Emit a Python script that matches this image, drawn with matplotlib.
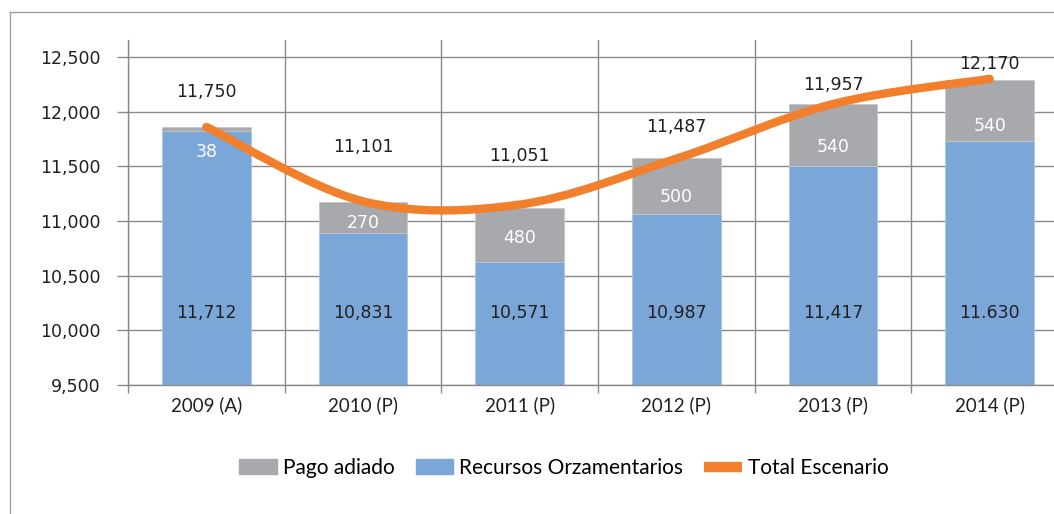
import numpy as np
import matplotlib
matplotlib.use("Agg")
import matplotlib.pyplot as plt
from matplotlib.path import Path
from matplotlib.patches import PathPatch, Patch
from matplotlib.lines import Line2D
from matplotlib.ticker import FuncFormatter

# data (bar heights; printed labels kept as in the source)
years = ["2009 (A)", "2010 (P)", "2011 (P)", "2012 (P)", "2013 (P)", "2014 (P)"]
recursos = [11824, 10894, 10626, 11062, 11506, 11732]
pago = [33, 283, 494, 512, 567, 558]
total = [11860, 11180, 11150, 11570, 12070, 12300]

recursos_labels = ["11,712", "10,831", "10,571", "10,987", "11,417", "11.630"]
pago_labels = ["38", "270", "480", "500", "540", "540"]
total_labels = ["11,750", "11,101", "11,051", "11,487", "11,957", "12,170"]

# label placement (layout only)
total_label_y = [12180, 11680, 11595, 11860, 12245, 12440]
pago_label_y = [11632, 10983, 10846, 11220, 11677, 11869]
recursos_label_y = 10160

BLUE = "#7BA7D8"
GRAY = "#A7A9AC"
ORANGE = "#F27F2B"
GRID = "#8A8A8A"
TXT = "#231F20"
NUM_FONT = "DejaVu Sans"
LAB_FONT = "Lato"
NUM_SIZE = 12.5

W, H = 1054, 514
fig = plt.figure(figsize=(W / 100, H / 100), dpi=100)
ax = fig.add_axes([128 / W, 1 - 385 / H, 940 / W, 345 / H])

x = np.arange(len(years))
ax.bar(x, recursos, width=0.565, color=BLUE, edgecolor="#A9C6E8", linewidth=0.6, zorder=2)
ax.bar(x, pago, width=0.565, bottom=recursos, color=GRAY, edgecolor="#C4C6C8", linewidth=0.6, zorder=2)

# smoothed line (Excel style bezier through the points)
pts = np.column_stack([x, total]).astype(float)
verts = [pts[0]]
codes = [Path.MOVETO]
for i in range(len(pts) - 1):
    p0 = pts[i - 1] if i > 0 else pts[i]
    p3 = pts[i + 2] if i + 2 < len(pts) else pts[i + 1]
    c1 = pts[i] + (pts[i + 1] - p0) / 6
    c2 = pts[i + 1] - (p3 - pts[i]) / 6
    verts += [c1, c2, pts[i + 1]]
    codes += [Path.CURVE4] * 3
ax.add_patch(PathPatch(Path(verts, codes), facecolor="none", edgecolor=ORANGE,
                       lw=6, capstyle="round", joinstyle="round", zorder=4))

for i in range(len(years)):
    ax.text(x[i], recursos_label_y, recursos_labels[i], ha="center", va="center",
            fontsize=NUM_SIZE, family=NUM_FONT, color=TXT, zorder=5)
    ax.text(x[i], pago_label_y[i], pago_labels[i], ha="center", va="center",
            fontsize=NUM_SIZE, family=NUM_FONT, color="white", zorder=5)
    ax.text(x[i], total_label_y[i], total_labels[i], ha="center", va="center",
            fontsize=NUM_SIZE, family=NUM_FONT, color=TXT, zorder=5)

ax.set_xlim(-0.5, 5.5)
ax.set_ylim(9500, 12655)
ax.set_yticks(np.arange(9500, 12501, 500))
ax.yaxis.set_major_formatter(FuncFormatter(lambda v, p: f"{int(v):,}"))
ax.set_xticks(x)
ax.set_xticklabels(years)
ax.set_xticks(np.arange(-0.5, 6, 1), minor=True)

ax.set_axisbelow(True)
ax.yaxis.grid(True, color=GRID, lw=1)
ax.xaxis.grid(True, which="minor", color=GRID, lw=1)
ax.xaxis.grid(False, which="major")

for s in ["top", "right"]:
    ax.spines[s].set_visible(False)
for s in ["left", "bottom"]:
    ax.spines[s].set_color(GRID)
    ax.spines[s].set_linewidth(1)

ax.tick_params(axis="x", which="major", length=0, pad=8)
ax.tick_params(axis="x", which="minor", length=6, width=1, color=GRID, direction="out")
ax.tick_params(axis="y", length=8, width=1, color=GRID, pad=12)
for t in ax.get_yticklabels():
    t.set_family(NUM_FONT)
    t.set_fontsize(NUM_SIZE)
    t.set_color(TXT)
for t in ax.get_xticklabels():
    t.set_family(LAB_FONT)
    t.set_fontsize(13.5)
    t.set_color(TXT)

handles = [Patch(color=GRAY), Patch(color=BLUE),
           Line2D([], [], color=ORANGE, lw=7.5, solid_capstyle="butt")]
fig.legend(handles, ["Pago adiado", "Recursos Orzamentarios", "Total Escenario"],
           loc="center", bbox_to_anchor=(564 / W, 1 - 468 / H), ncol=3, frameon=False,
           prop={"family": LAB_FONT, "size": 15}, handlelength=1.8, handleheight=0.75,
           handletextpad=0.3, columnspacing=1.0)

# outer frame (only top and left edges are visible)
fig.add_artist(Line2D([10 / W, 10 / W], [0, 1 - 12 / H], transform=fig.transFigure, color="#A0A0A0", lw=1))
fig.add_artist(Line2D([10 / W, 1], [1 - 12 / H, 1 - 12 / H], transform=fig.transFigure, color="#A0A0A0", lw=1))

fig.savefig("out.png", dpi=100)
